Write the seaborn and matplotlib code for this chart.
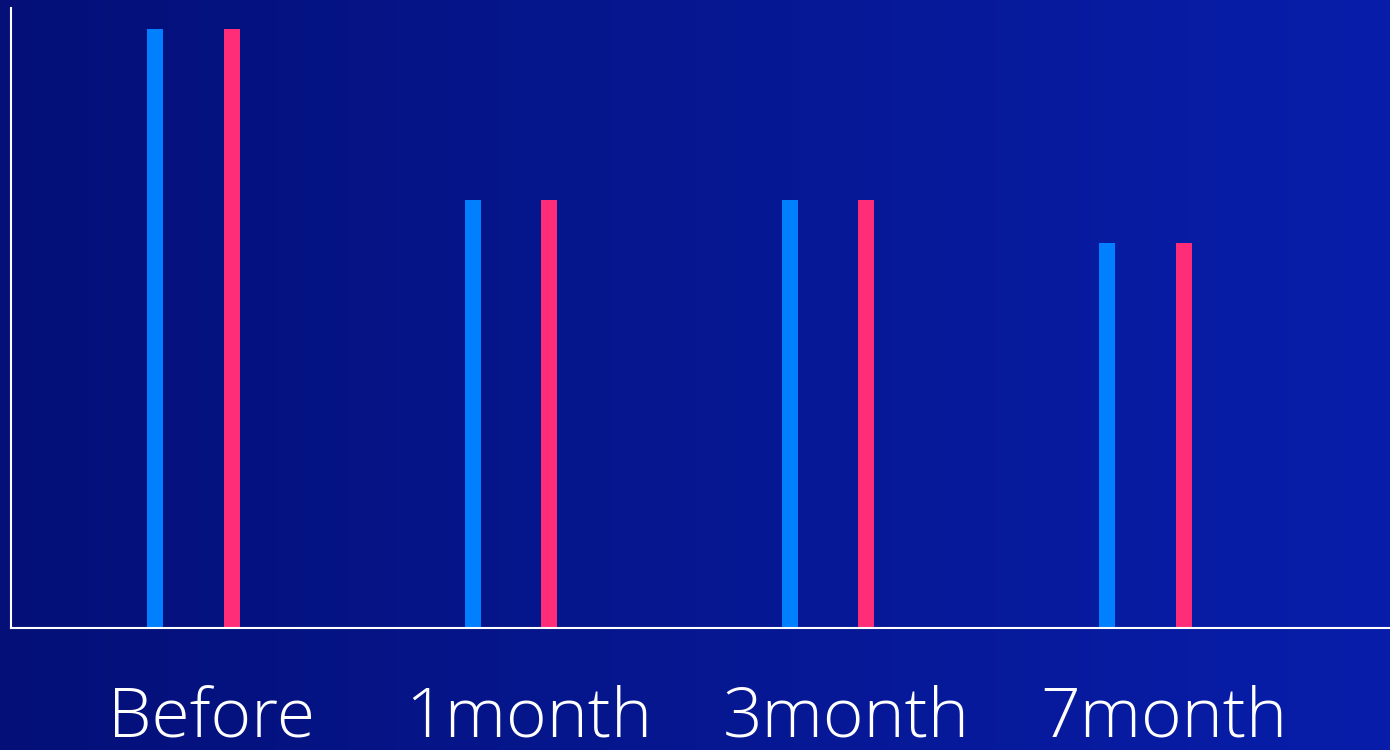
import numpy as np
import pandas as pd
import matplotlib
matplotlib.use("Agg")
import matplotlib.pyplot as plt
import matplotlib.transforms as mtransforms
import seaborn as sns

categories = ["Before", "1month", "3month", "7month"]
series_a = [14, 10, 10, 9]
series_b = [14, 10, 10, 9]
series_names = ["A", "B"]

df = pd.DataFrame({
    "period": categories * 2,
    "value": series_a + series_b,
    "series": [series_names[0]] * 4 + [series_names[1]] * 4,
})

sns.set_theme(style="white")
plt.rcParams["font.family"] = ["Open Sans", "DejaVu Sans"]

fig = plt.figure(figsize=(13.9, 7.5), dpi=100)

# gradient background
bg = fig.add_axes([0, 0, 1, 1], zorder=-10)
grad = np.linspace(0, 1, 256)[None, :]
c0 = np.array([4, 16, 120]) / 255
c1 = np.array([8, 30, 170]) / 255
img = c0[None, None, :] * (1 - grad[..., None]) + c1[None, None, :] * grad[..., None]
bg.imshow(img, aspect="auto", extent=[0, 1, 0, 1])
bg.axis("off")

ax = fig.add_axes([11 / 1390, 122 / 750, 1378 / 1390, 620 / 750])
ax.patch.set_alpha(0)

sns.barplot(data=df, x="period", y="value", hue="series",
            palette=["#0080FF", "#FF2D78"], width=0.48, ax=ax,
            legend=False, saturation=1, errorbar=None)

new_w = 16 / 317.4
for p in ax.patches:
    cx = p.get_x() + p.get_width() / 2
    p.set_width(new_w)
    p.set_x(cx - new_w / 2)
    p.set_linewidth(0)

ax.set_xlim(-0.575, 3.767)
ax.set_ylim(0, 14.5)
ax.set_yticks([])
ax.set_xlabel("")
ax.set_ylabel("")
for s in ["top", "right"]:
    ax.spines[s].set_visible(False)
for s in ["left", "bottom"]:
    ax.spines[s].set_color("white")
    ax.spines[s].set_linewidth(1.5)
ax.tick_params(axis="x", length=0, pad=41, labelsize=50, labelcolor="white")
offset = mtransforms.ScaledTranslation(18 / 100, 0, fig.dpi_scale_trans)
for lbl in ax.get_xticklabels():
    lbl.set_fontweight(300)
    lbl.set_transform(lbl.get_transform() + offset)

fig.savefig("out.png", dpi=100)
